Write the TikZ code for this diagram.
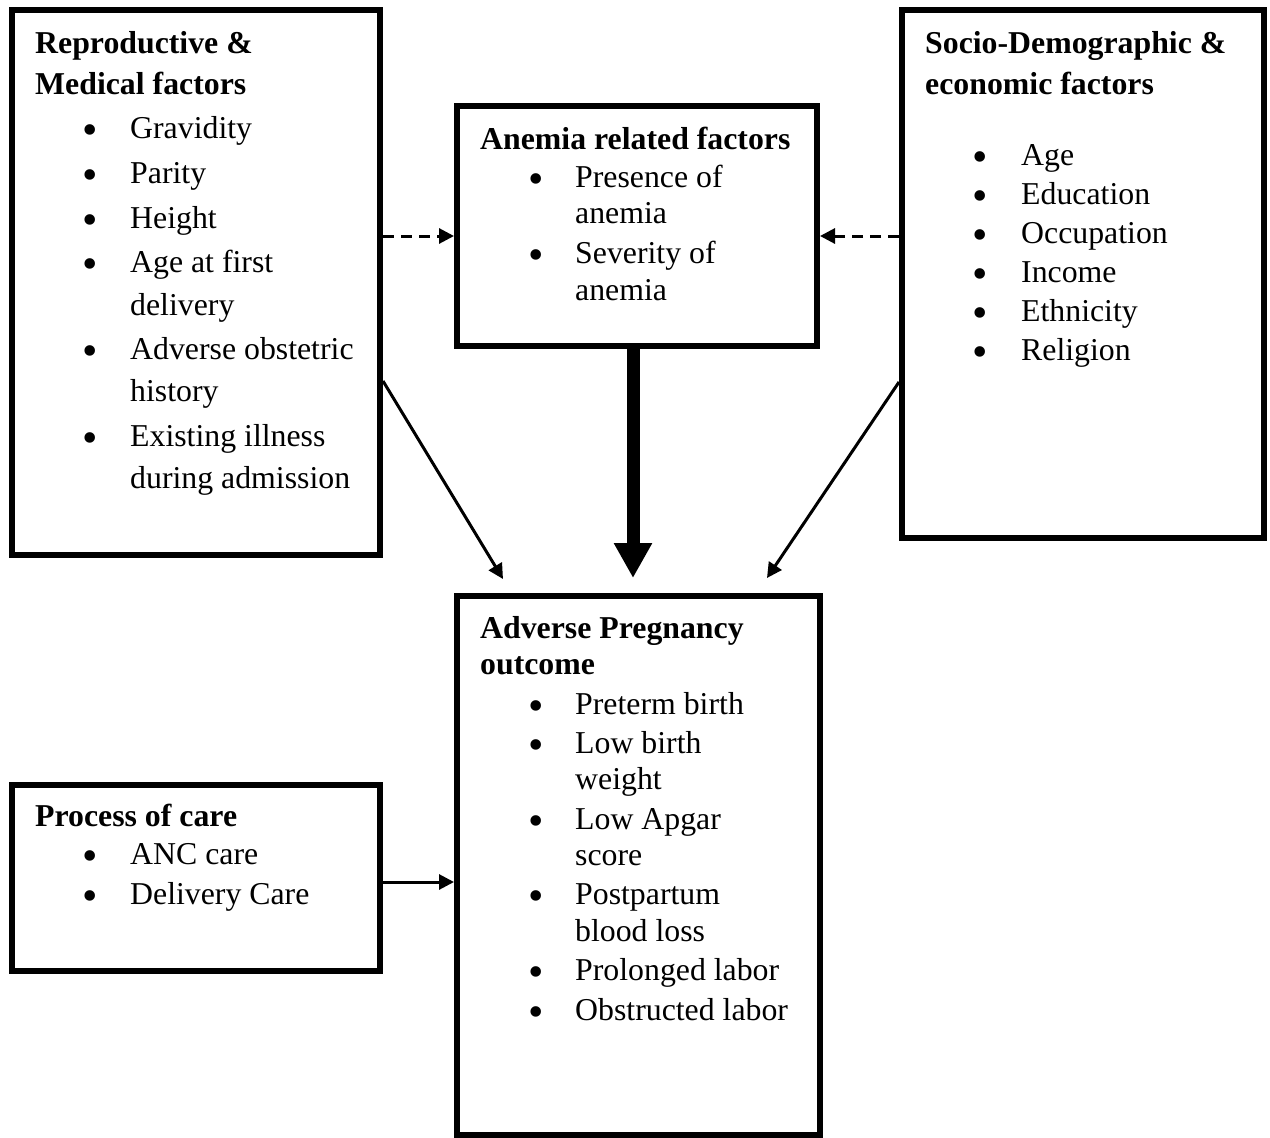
\documentclass[tikz,border=0pt]{standalone}
\usepackage{fontspec}
\setmainfont{Liberation Serif}
\usetikzlibrary{arrows.meta}
\begin{document}
\begin{tikzpicture}[x=1pt,y=-1pt,
  box/.style={draw=black, line width=6pt, rectangle, inner sep=0pt, fill=white},
  hd/.style={anchor=base west, inner sep=0pt, font=\fontsize{31.8}{38}\selectfont\bfseries},
  body/.style={anchor=base west, inner sep=0pt, font=\fontsize{31.8}{38}\selectfont},
  bul/.style={anchor=base, inner sep=0pt, yshift=-6pt, font=\fontsize{44}{44}\selectfont},
  thin/.style={line width=3pt, -{Triangle[length=15pt,width=15pt]}},
  dsh/.style={line width=3pt, dash pattern=on 11pt off 7pt, -{Triangle[length=15pt,width=15pt]}},
  big/.style={line width=13pt, -{Triangle[length=35pt,width=36pt]}}]
\useasboundingbox (0,0) rectangle (1270,1138);
\fill[white] (0,0) rectangle (1270,1138);

% boxes
\node[box, minimum width=368pt, minimum height=545pt] (rep) at (196,282.5) {};
\node[box, minimum width=360pt, minimum height=240pt] (anem) at (637,226) {};
\node[box, minimum width=362pt, minimum height=528pt] (soc) at (1083,274) {};
\node[box, minimum width=363pt, minimum height=539pt] (adv) at (638.5,865.5) {};
\node[box, minimum width=368pt, minimum height=186pt] (proc) at (196,878) {};

% box 1 text
\node[hd] (rh1) at (35,53) {Reproductive \&};
\node[hd] (rh2) at (35,94) {Medical factors};
\foreach[count=\i] \y/\t in {138/Gravidity,183/Parity,228/Height,272/Age at first,315/delivery,359/Adverse obstetric,401/history,446/Existing illness,488/during admission}
  \node[body] (rt\i) at (130,\y) {\t};
\foreach[count=\i] \y in {138,183,228,272,359,446}
  \node[bul] (rb\i) at (90,\y) {\smash{\textbullet}};

% box 2 text
\node[hd] (ah1) at (480,149) {Anemia related factors};
\foreach[count=\i] \y/\t in {187/Presence of,223/anemia,263/Severity of,300/anemia}
  \node[body] (at\i) at (575,\y) {\t};
\foreach[count=\i] \y in {187,263}
  \node[bul] (ab\i) at (536,\y) {\smash{\textbullet}};

% box 3 text
\node[hd] (sh1) at (925,53) {Socio-Demographic \&};
\node[hd] (sh2) at (925,94) {economic factors};
\foreach[count=\i] \y/\t in {165/Age,204/Education,243/Occupation,282/Income,321/Ethnicity,360/Religion}
  \node[body] (st\i) at (1021,\y) {\t};
\foreach[count=\i] \y in {165,204,243,282,321,360}
  \node[bul] (sb\i) at (980,\y) {\smash{\textbullet}};

% box 4 text
\node[hd] (dh1) at (480,638) {Adverse Pregnancy};
\node[hd] (dh2) at (480,674) {outcome};
\foreach[count=\i] \y/\t in {714/Preterm birth,753/Low birth,789/weight,829/Low Apgar,865/score,904/Postpartum,941/blood loss,980/Prolonged labor,1020/Obstructed labor}
  \node[body] (dt\i) at (575,\y) {\t};
\foreach[count=\i] \y in {714,753,829,904,980,1020}
  \node[bul] (db\i) at (536,\y) {\smash{\textbullet}};

% box 5 text
\node[hd] (ph1) at (35,826) {Process of care};
\foreach[count=\i] \y/\t in {864/ANC care,904/Delivery Care}
  \node[body] (pt\i) at (130,\y) {\t};
\foreach[count=\i] \y in {864,904}
  \node[bul] (pb\i) at (90,\y) {\smash{\textbullet}};

% connectors
\coordinate (tipM) at (633,578);
\coordinate (tipL) at (503,579);
\coordinate (tipR) at (767,578);
\draw[dsh] (rep.east |- 0,236) -- (anem.west |- 0,236);
\draw[dsh] (soc.west |- 0,236) -- (anem.east |- 0,236);
\draw[big] (anem.south -| tipM) -- (tipM);
\draw[thin] (rep.east |- 0,381) -- (tipL);
\draw[thin] (soc.west |- 0,382) -- (tipR);
\draw[thin] (proc.east |- 0,882) -- (adv.west |- 0,882);
\end{tikzpicture}
\end{document}
